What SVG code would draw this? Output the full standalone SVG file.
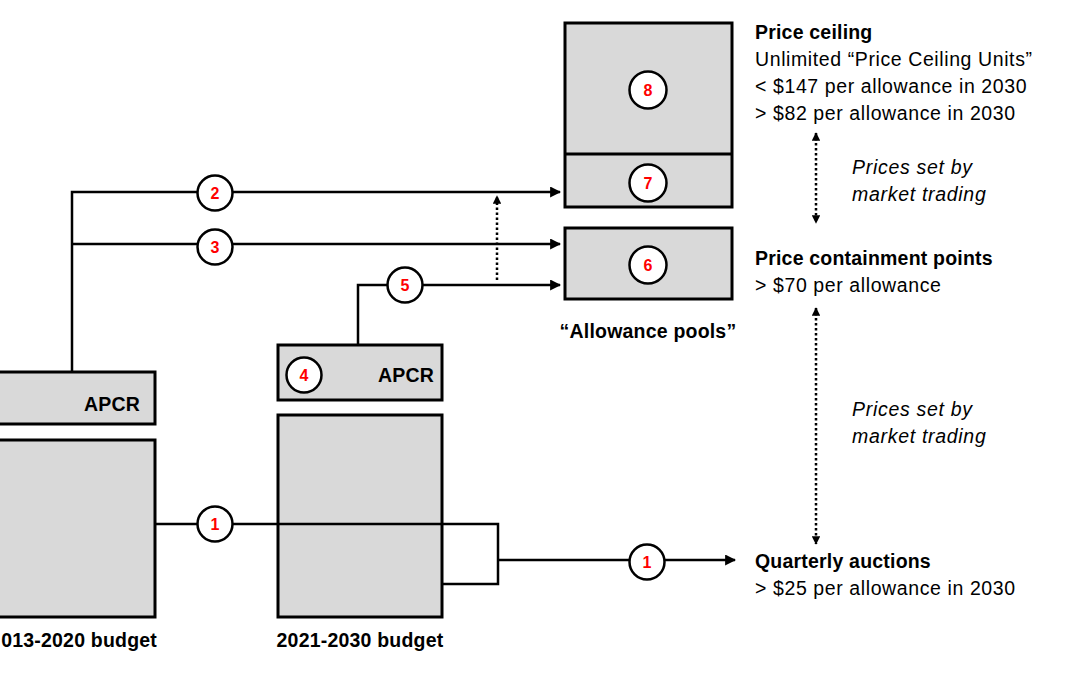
<svg xmlns="http://www.w3.org/2000/svg" width="1080" height="675" viewBox="0 0 1080 675">
<style>
.box{fill:#d9d9d9;stroke:#000;stroke-width:3}
.ln{fill:none;stroke:#000;stroke-width:2.5}
.dot{fill:none;stroke:#000;stroke-width:2.5;stroke-dasharray:2.5 2.5}
.c{fill:#fff;stroke:#000;stroke-width:2.5}
.n{font-family:"Liberation Sans",Arial,sans-serif;font-size:16px;font-weight:bold;fill:#ff0000;text-anchor:middle}
.t{font-family:"Liberation Sans",Arial,sans-serif;font-size:19.5px;fill:#000;letter-spacing:0.6px}
.b{font-weight:bold;letter-spacing:0.2px}
.i{font-style:italic;letter-spacing:0.7px}
</style>
<defs>
<marker id="ah" viewBox="0 0 10 10" refX="9" refY="5" markerWidth="4.4" markerHeight="4.4" orient="auto"><path d="M0,0 L10,5 L0,10 z" fill="#000"/></marker>
<marker id="ahs" viewBox="0 0 10 10" refX="9" refY="5" markerWidth="3.4" markerHeight="3.4" orient="auto-start-reverse"><path d="M0,0 L10,5 L0,10 z" fill="#000"/></marker>
</defs>
<rect width="1080" height="675" fill="#fff"/>

<g id="budget2013">
<rect class="box" x="-5" y="440" width="160" height="177"/>
<text class="t b" x="157" y="647" text-anchor="end">013-2020 budget</text>
</g>
<g id="apcr2013">
<rect class="box" x="-5" y="372" width="160" height="52"/>
<text class="t b" x="140" y="411" text-anchor="end">APCR</text>
</g>
<g id="budget2021">
<rect class="box" x="278" y="415" width="164" height="202"/>
<text class="t b" x="360" y="647" text-anchor="middle">2021-2030 budget</text>
</g>
<g id="apcr2021">
<rect class="box" x="278" y="345" width="164" height="55"/>
<text class="t b" x="434" y="382" text-anchor="end">APCR</text>
</g>
<g id="pool-ceiling">
<rect class="box" x="565" y="23" width="167" height="184"/>
<line x1="565" y1="154" x2="732" y2="154" stroke="#000" stroke-width="3"/>
</g>
<g id="pool-containment">
<rect class="box" x="565" y="228" width="167" height="71"/>
</g>
<g id="pools-label">
<text class="t b" x="648" y="338" text-anchor="middle">“Allowance pools”</text>
</g>

<g id="connectors">
<polyline class="ln" points="72,372 72,192 560,192" marker-end="url(#ah)"/>
<polyline class="ln" points="72,244 560,244" marker-end="url(#ah)"/>
<polyline class="ln" points="358,345 358,285 560,285" marker-end="url(#ah)"/>
<line class="dot" x1="497" y1="280" x2="497" y2="196" marker-end="url(#ahs)"/>
<polyline class="ln" points="155,524 498,524 498,584 442,584"/>
<line class="ln" x1="498" y1="560" x2="735" y2="560" marker-end="url(#ah)"/>
<line class="dot" x1="816" y1="133" x2="816" y2="223" marker-start="url(#ahs)" marker-end="url(#ahs)"/>
<line class="dot" x1="816" y1="308" x2="816" y2="544" marker-start="url(#ahs)" marker-end="url(#ahs)"/>
</g>

<g id="m1a"><circle class="c" cx="215" cy="524" r="17.5"/><text class="n" x="215" y="530">1</text></g>
<g id="m1b"><circle class="c" cx="647" cy="562" r="17.5"/><text class="n" x="647" y="568">1</text></g>
<g id="m2"><circle class="c" cx="215" cy="193" r="17.5"/><text class="n" x="215" y="199">2</text></g>
<g id="m3"><circle class="c" cx="215" cy="247" r="17.5"/><text class="n" x="215" y="253">3</text></g>
<g id="m4"><circle class="c" cx="304" cy="375" r="17.5"/><text class="n" x="304" y="381">4</text></g>
<g id="m5"><circle class="c" cx="405" cy="285" r="17.5"/><text class="n" x="405" y="291">5</text></g>
<g id="m6"><circle class="c" cx="648" cy="265" r="18.5"/><text class="n" x="648" y="271">6</text></g>
<g id="m7"><circle class="c" cx="648" cy="183" r="18.5"/><text class="n" x="648" y="189">7</text></g>
<g id="m8"><circle class="c" cx="648" cy="90" r="18.5"/><text class="n" x="648" y="96">8</text></g>

<g id="ceiling-text">
<text class="t b" x="755" y="39">Price ceiling</text>
<text class="t" x="755" y="66">Unlimited “Price Ceiling Units”</text>
<text class="t" x="755" y="93">&lt; $147 per allowance in 2030</text>
<text class="t" x="755" y="120">&gt; $82 per allowance in 2030</text>
</g>
<g id="market1">
<text class="t i" x="852" y="174">Prices set by</text>
<text class="t i" x="852" y="201">market trading</text>
</g>
<g id="containment-text">
<text class="t b" x="755" y="265">Price containment points</text>
<text class="t" x="755" y="292">&gt; $70 per allowance</text>
</g>
<g id="market2">
<text class="t i" x="852" y="416">Prices set by</text>
<text class="t i" x="852" y="443">market trading</text>
</g>
<g id="auction-text">
<text class="t b" x="755" y="568">Quarterly auctions</text>
<text class="t" x="755" y="595">&gt; $25 per allowance in 2030</text>
</g>
</svg>
